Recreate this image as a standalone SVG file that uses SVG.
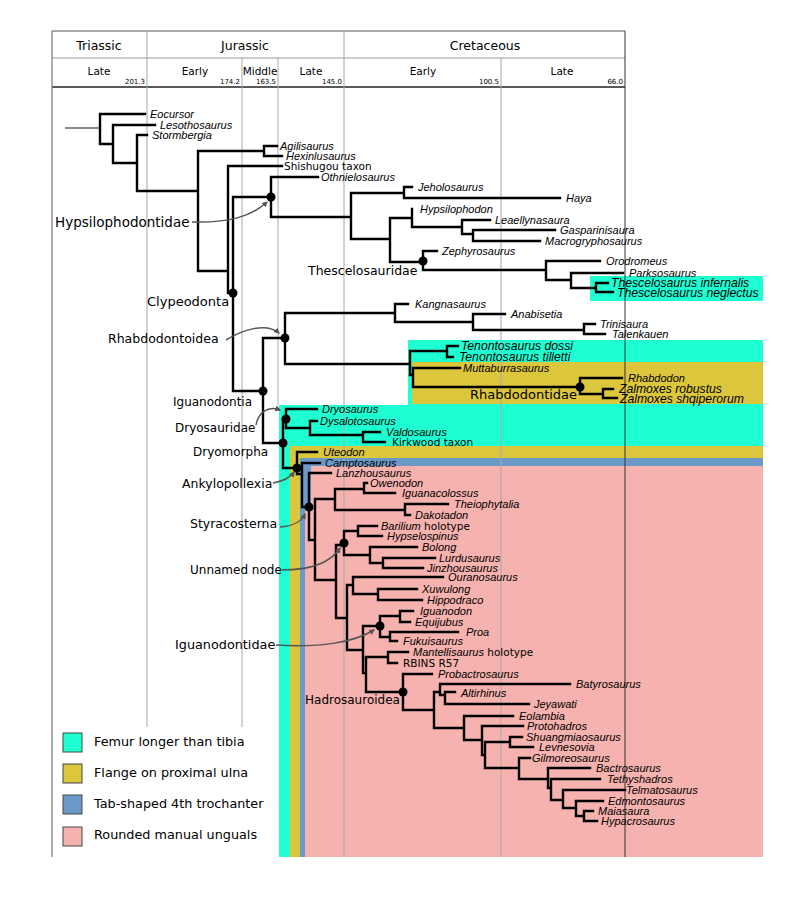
<svg xmlns="http://www.w3.org/2000/svg" width="800" height="905" viewBox="0 0 800 905">
<style>
.br{stroke:#000;stroke-width:2.4;fill:none;stroke-linecap:square}
.gl{stroke:#a8a8a8;stroke-width:1;fill:none}
.t{font-family:"Liberation Sans",Arial,sans-serif;font-style:italic;font-size:11px;fill:#000}
.tb{font-size:12.2px}
.r{font-family:"DejaVu Sans",Verdana,sans-serif;font-size:10.5px;fill:#000}
.c{font-family:"DejaVu Sans",Verdana,sans-serif;font-size:12px;fill:#000}
.lt{font-family:"DejaVu Sans",Verdana,sans-serif;font-size:12.8px;fill:#000}
.h1{font-family:"DejaVu Sans",Verdana,sans-serif;font-size:12.5px;fill:#000;text-anchor:middle}
.h2{font-family:"DejaVu Sans",Verdana,sans-serif;font-size:10.5px;fill:#000;text-anchor:middle}
.num{font-family:"DejaVu Sans",Verdana,sans-serif;font-size:7px;fill:#000;text-anchor:end}
.ar{stroke:#555;stroke-width:1.5;fill:none;marker-end:url(#ah)}
.dot{fill:#000}
.cy{fill:#1effd2}.ye{fill:#dcc63c}.bl{fill:#6c9ac8}.pk{fill:#f6b2ae}
.lg{stroke:#444;stroke-width:1}
</style>
<defs>
<marker id="ah" viewBox="0 0 10 10" refX="8" refY="5" markerWidth="6" markerHeight="6" orient="auto-start-reverse" markerUnits="userSpaceOnUse">
<path d="M0,0 L10,5 L0,10 Z" fill="#555"/>
</marker>
</defs>
<rect width="800" height="905" fill="#fff"/>

<g id="regions">
<rect class="cy" x="590" y="276" width="173" height="25"/>
<rect class="cy" x="408" y="340" width="355" height="66"/>
<rect class="ye" x="412" y="362" width="351" height="42"/>
<rect class="cy" x="279" y="405" width="484" height="452"/>
<rect class="ye" x="290" y="446" width="473" height="411"/>
<rect class="bl" x="300" y="458" width="463" height="399"/>
<path class="pk" d="M311,466 H763 V857 H305 V509 H311 Z"/>
</g>

<g id="timescale">
<path d="M52,31 H625" stroke="#555" stroke-width="1.2"/>
<path d="M52,58 H625" stroke="#999" stroke-width="1"/>
<path d="M52,87 H625" stroke="#222" stroke-width="1.5"/>
<path d="M52,31 V857" stroke="#777" stroke-width="1.2"/>
<path d="M625,31 V857" stroke="#333" stroke-width="1"/>
<path class="gl" d="M147,31 V727 M344,31 V857 M242,58 V727 M278,58 V405 M501,58 V857"/>
<text class="h1" x="99" y="50">Triassic</text>
<text class="h1" x="245" y="50">Jurassic</text>
<text class="h1" x="485" y="50">Cretaceous</text>
<text class="h2" x="99" y="75">Late</text>
<text class="h2" x="195" y="75">Early</text>
<text class="h2" x="260" y="75">Middle</text>
<text class="h2" x="311" y="75">Late</text>
<text class="h2" x="423" y="75">Early</text>
<text class="h2" x="562" y="75">Late</text>
<text class="num" x="145" y="84">201.3</text>
<text class="num" x="240" y="84">174.2</text>
<text class="num" x="276" y="84">163.5</text>
<text class="num" x="342" y="84">145.0</text>
<text class="num" x="499" y="84">100.5</text>
<text class="num" x="623" y="84">66.0</text>
</g>

<g id="connectors">
<path d="M65,128 H99" stroke="#888" stroke-width="2" fill="none"/>
<path class="br" d="M100,114 V144 M100,114 H145 M100,144 H113 M113,125 V163 M113,125 H155 M113,163 H137 M137,135 V191 M137,135 H147 M137,191 H198
M198,151 V271 M198,151 H264 M264,146 V156 M264,146 H277 M264,156 H282 M198,271 H228 M228,166 V293 M228,166 H282 M228,293 H233
M233,197 V391 M233,197 H271 M271,177 V217 M271,177 H318 M271,217 H351 M351,193 V239 M351,193 H404 M404,187 V198 M404,187 H412 M404,198 H560
M351,239 H390 M390,218 V262 M390,218 H412 M412,209 V227 M412,227 H462 M462,220 V234 M462,220 H490 M462,234 H473 M473,230 V241 M473,230 H555 M473,241 H540
M390,262 H423 M423,251 V270 M423,251 H437 M423,270 H546 M546,261 V280 M546,261 H600 M546,280 H571 M571,273 V288 M571,273 H623 M571,288 H596 M596,283 V292 M596,283 H608 M596,292 H613
M233,391 H263 M263,338 V443 M263,338 H285 M285,313 V364 M285,313 H395 M395,304 V322 M395,304 H408 M395,322 H473 M473,314 V330 M473,314 H505 M473,330 H584 M584,324 V334 M584,324 H595 M584,334 H605
M285,364 H410 M410,351 V375 M410,351 H447 M447,346 V357 M447,346 H458 M447,357 H453 M410,375 H413 M413,368 V387 M413,368 H460 M413,387 H580 M580,378 V394 M580,378 H622 M580,394 H603 M603,389 V398 M603,389 H613 M603,398 H617
M263,443 H283 M283,419 V468 M283,419 H286 M286,409 V428 M286,409 H317 M286,428 H310 M310,421 V435 M310,421 H317 M310,435 H363 M363,432 V442 M363,432 H380 M363,442 H385
M283,468 H297 M297,452 V474 M297,452 H317 M297,474 H302 M302,463 V507 M302,463 H320 M302,507 H309 M309,473 V540 M309,473 H331 M309,540 H315
M315,499 V580 M315,499 H335 M335,489 V510 M335,489 H364 M364,483 V493 M364,483 H367 M364,493 H395 M335,510 H405 M405,504 V515 M405,504 H448 M405,515 H410
M315,580 H336 M336,545 V618 M336,545 H344 M344,531 V555 M344,531 H358 M358,526 V536 M358,526 H377 M358,536 H382 M344,555 H370 M370,547 V563 M370,547 H417 M370,563 H383 M383,558 V568 M383,558 H435 M383,568 H423
M336,618 H347 M347,585 V650 M347,585 H353 M353,577 V594 M353,577 H443 M353,594 H378 M378,589 V600 M378,589 H417 M378,600 H422
M347,650 H363 M363,626 V673 M363,626 H380 M380,616 V637 M380,616 H400 M400,611 V622 M400,611 H413 M400,622 H410 M380,637 H390 M390,632 V641 M390,632 H458 M390,641 H397
M363,673 H366 M366,657 V692 M366,657 H388 M388,652 V663 M388,652 H408 M388,663 H397 M366,692 H403
M403,674 V710 M403,674 H432 M403,710 H434 M434,692 V728 M434,692 H440 M440,684 V695 M440,684 H570 M440,695 H445 M445,692 V704 M445,692 H455 M445,704 H529
M434,728 H464 M464,716 V740 M464,716 H513 M464,740 H482 M482,726 V755 M482,726 H523 M482,755 H485 M485,742 V768 M485,742 H510 M510,737 V747 M510,737 H522 M510,747 H533
M485,768 H519 M519,758 V779 M519,758 H530 M519,779 H548 M548,768 V788 M548,768 H590 M548,788 H551 M551,779 V800 M551,779 H600 M551,800 H563 M563,790 V808 M563,790 H625 M563,808 H576 M576,801 V816 M576,801 H603 M576,816 H584 M584,811 V821 M584,811 H593 M584,821 H597"/>
<path class="ar" d="M192,222 C230,223 252,216 267,202"/>
<path class="ar" d="M226,340 C242,330 266,322 279,333"/>
<path class="ar" d="M256,425 C258,413 268,405 280,410"/>
<path class="ar" d="M273,483 C284,481 290,478 294,472"/>
<path class="ar" d="M280,527 C294,526 301,522 305,514"/>
<path class="ar" d="M282,570 C312,570 331,562 340,548"/>
<path class="ar" d="M276,645 C320,648 355,642 374,630"/>
</g>

<g id="clades">
<g id="n-hypsilophodontidae"><circle class="dot" cx="271" cy="197" r="4.5"/><text class="c" x="55" y="227" style="font-size:13.5px">Hypsilophodontidae</text></g>
<g id="n-thescelosauridae"><circle class="dot" cx="423" cy="261" r="4.5"/><text class="c" x="308" y="275" style="font-size:12.5px">Thescelosauridae</text></g>
<g id="n-clypeodonta"><circle class="dot" cx="233" cy="293" r="4.5"/><text class="c" x="147" y="306" style="font-size:13px">Clypeodonta</text></g>
<g id="n-rhabdodontoidea"><circle class="dot" cx="285" cy="338" r="4.5"/><text class="c" x="108" y="343" style="font-size:12.5px">Rhabdodontoidea</text></g>
<g id="n-rhabdodontidae"><circle class="dot" cx="580" cy="387" r="4.5"/><text class="c" x="470" y="399" style="font-size:13px">Rhabdodontidae</text></g>
<g id="n-iguanodontia"><circle class="dot" cx="263" cy="391" r="4.5"/><text class="c" x="173" y="406">Iguanodontia</text></g>
<g id="n-dryosauridae"><circle class="dot" cx="286" cy="419" r="4.5"/><text class="c" x="175" y="432">Dryosauridae</text></g>
<g id="n-dryomorpha"><circle class="dot" cx="283" cy="443" r="4.5"/><text class="c" x="193" y="456">Dryomorpha</text></g>
<g id="n-ankylopollexia"><circle class="dot" cx="297" cy="468" r="4.5"/><text class="c" x="182" y="488" style="font-size:12.5px">Ankylopollexia</text></g>
<g id="n-styracosterna"><circle class="dot" cx="309" cy="507" r="4.5"/><text class="c" x="190" y="528" style="font-size:12.5px">Styracosterna</text></g>
<g id="n-unnamed"><circle class="dot" cx="344" cy="543" r="4.5"/><text class="c" x="190" y="574">Unnamed node</text></g>
<g id="n-iguanodontidae"><circle class="dot" cx="380" cy="626" r="4.5"/><text class="c" x="175" y="649" style="font-size:12.8px">Iguanodontidae</text></g>
<g id="n-hadrosauroidea"><circle class="dot" cx="403" cy="692" r="4.5"/><text class="c" x="305" y="704">Hadrosauroidea</text></g>
</g>

<g id="taxa">
<g id="t-eocursor"><text class="t" x="150" y="118">Eocursor</text></g>
<g id="t-lesothosaurus"><text class="t" x="160" y="129">Lesothosaurus</text></g>
<g id="t-stormbergia"><text class="t" x="152" y="139">Stormbergia</text></g>
<g id="t-agilisaurus"><text class="t" x="280" y="150">Agilisaurus</text></g>
<g id="t-hexinlusaurus"><text class="t" x="286" y="160">Hexinlusaurus</text></g>
<g id="t-shishugou"><text class="r" x="284" y="170">Shishugou taxon</text></g>
<g id="t-othnielosaurus"><text class="t" x="321" y="181">Othnielosaurus</text></g>
<g id="t-jeholosaurus"><text class="t" x="418" y="191">Jeholosaurus</text></g>
<g id="t-haya"><text class="t" x="566" y="202">Haya</text></g>
<g id="t-hypsilophodon"><text class="t" x="420" y="213">Hypsilophodon</text></g>
<g id="t-leaellynasaura"><text class="t" x="495" y="224">Leaellynasaura</text></g>
<g id="t-gasparinisaura"><text class="t" x="560" y="234">Gasparinisaura</text></g>
<g id="t-macrogryphosaurus"><text class="t" x="545" y="245">Macrogryphosaurus</text></g>
<g id="t-zephyrosaurus"><text class="t" x="442" y="255">Zephyrosaurus</text></g>
<g id="t-orodromeus"><text class="t" x="606" y="265">Orodromeus</text></g>
<g id="t-parksosaurus"><text class="t" x="629" y="277">Parksosaurus</text></g>
<g id="t-t-infernalis"><text class="t tb" x="611" y="287">Thescelosaurus infernalis</text></g>
<g id="t-t-neglectus"><text class="t tb" x="617" y="297">Thescelosaurus neglectus</text></g>
<g id="t-kangnasaurus"><text class="t" x="415" y="308">Kangnasaurus</text></g>
<g id="t-anabisetia"><text class="t" x="511" y="318">Anabisetia</text></g>
<g id="t-trinisaura"><text class="t" x="600" y="328">Trinisaura</text></g>
<g id="t-talenkauen"><text class="t" x="612" y="338">Talenkauen</text></g>
<g id="t-t-dossi"><text class="t tb" x="461" y="350">Tenontosaurus dossi</text></g>
<g id="t-t-tilletti"><text class="t tb" x="459" y="361">Tenontosaurus tilletti</text></g>
<g id="t-muttaburrasaurus"><text class="t" x="463" y="372">Muttaburrasaurus</text></g>
<g id="t-rhabdodon"><text class="t" x="628" y="382">Rhabdodon</text></g>
<g id="t-z-robustus"><text class="t tb" x="619" y="393">Zalmoxes robustus</text></g>
<g id="t-z-shqiperorum"><text class="t tb" x="620" y="403">Zalmoxes shqiperorum</text></g>
<g id="t-dryosaurus"><text class="t" x="322" y="413">Dryosaurus</text></g>
<g id="t-dysalotosaurus"><text class="t" x="320" y="425">Dysalotosaurus</text></g>
<g id="t-valdosaurus"><text class="t" x="386" y="436">Valdosaurus</text></g>
<g id="t-kirkwood"><text class="r" x="392" y="446">Kirkwood taxon</text></g>
<g id="t-uteodon"><text class="t" x="323" y="456">Uteodon</text></g>
<g id="t-camptosaurus"><text class="t" x="325" y="467">Camptosaurus</text></g>
<g id="t-lanzhousaurus"><text class="t" x="336" y="477">Lanzhousaurus</text></g>
<g id="t-owenodon"><text class="t" x="370" y="487">Owenodon</text></g>
<g id="t-iguanacolossus"><text class="t" x="402" y="497">Iguanacolossus</text></g>
<g id="t-theiophytalia"><text class="t" x="454" y="508">Theiophytalia</text></g>
<g id="t-dakotadon"><text class="t" x="415" y="519">Dakotadon</text></g>
<g id="t-barilium"><text class="t" x="381" y="530">Barilium<tspan class="r" style="font-style:normal"> holotype</tspan></text></g>
<g id="t-hypselospinus"><text class="t" x="387" y="540">Hypselospinus</text></g>
<g id="t-bolong"><text class="t" x="422" y="551">Bolong</text></g>
<g id="t-lurdusaurus"><text class="t" x="439" y="562">Lurdusaurus</text></g>
<g id="t-jinzhousaurus"><text class="t" x="427" y="572">Jinzhousaurus</text></g>
<g id="t-ouranosaurus"><text class="t" x="448" y="581">Ouranosaurus</text></g>
<g id="t-xuwulong"><text class="t" x="422" y="593">Xuwulong</text></g>
<g id="t-hippodraco"><text class="t" x="427" y="604">Hippodraco</text></g>
<g id="t-iguanodon"><text class="t" x="420" y="615">Iguanodon</text></g>
<g id="t-equijubus"><text class="t" x="415" y="626">Equijubus</text></g>
<g id="t-proa"><text class="t" x="466" y="636">Proa</text></g>
<g id="t-fukuisaurus"><text class="t" x="403" y="645">Fukuisaurus</text></g>
<g id="t-mantellisaurus"><text class="t" x="413" y="656">Mantellisaurus<tspan class="r" style="font-style:normal"> holotype</tspan></text></g>
<g id="t-rbins"><text class="r" x="403" y="667">RBINS R57</text></g>
<g id="t-probactrosaurus"><text class="t" x="438" y="678">Probactrosaurus</text></g>
<g id="t-batyrosaurus"><text class="t" x="576" y="688">Batyrosaurus</text></g>
<g id="t-altirhinus"><text class="t" x="461" y="697">Altirhinus</text></g>
<g id="t-jeyawati"><text class="t" x="534" y="708">Jeyawati</text></g>
<g id="t-eolambia"><text class="t" x="519" y="720">Eolambia</text></g>
<g id="t-protohadros"><text class="t" x="527" y="730">Protohadros</text></g>
<g id="t-shuangmiaosaurus"><text class="t" x="526" y="741">Shuangmiaosaurus</text></g>
<g id="t-levnesovia"><text class="t" x="539" y="751">Levnesovia</text></g>
<g id="t-gilmoreosaurus"><text class="t" x="532" y="762">Gilmoreosaurus</text></g>
<g id="t-bactrosaurus"><text class="t" x="596" y="772">Bactrosaurus</text></g>
<g id="t-tethyshadros"><text class="t" x="607" y="783">Tethyshadros</text></g>
<g id="t-telmatosaurus"><text class="t" x="626" y="794">Telmatosaurus</text></g>
<g id="t-edmontosaurus"><text class="t" x="608" y="805">Edmontosaurus</text></g>
<g id="t-maiasaura"><text class="t" x="598" y="815">Maiasaura</text></g>
<g id="t-hypacrosaurus"><text class="t" x="601" y="825">Hypacrosaurus</text></g>
</g>

<g id="legend">
<rect class="cy lg" x="63" y="733" width="19" height="19"/>
<text class="lt" x="94" y="746">Femur longer than tibia</text>
<rect class="ye lg" x="63" y="764" width="19" height="19"/>
<text class="lt" x="94" y="777">Flange on proximal ulna</text>
<rect class="bl lg" x="63" y="795" width="19" height="19"/>
<text class="lt" x="94" y="808">Tab-shaped 4th trochanter</text>
<rect class="pk lg" x="63" y="827" width="19" height="19"/>
<text class="lt" x="94" y="839">Rounded manual unguals</text>
</g>
</svg>
